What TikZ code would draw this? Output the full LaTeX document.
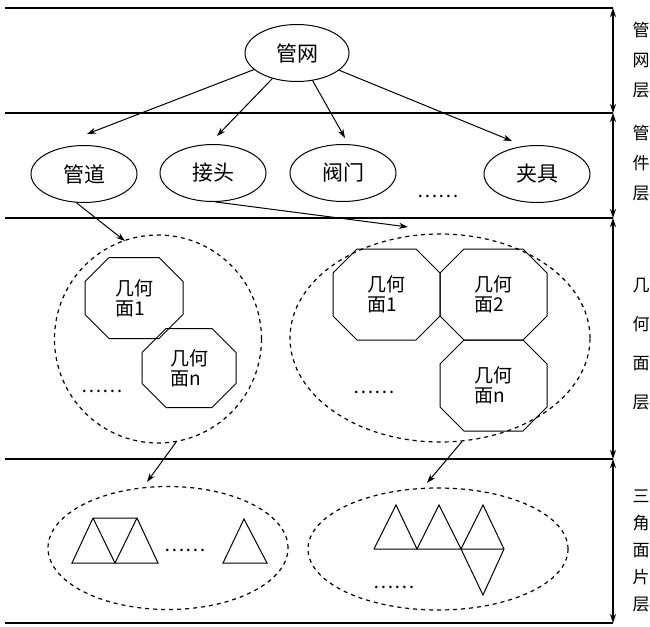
\documentclass[tikz,border=0pt]{standalone}
\usepackage{fontspec}
\setmainfont{Noto Sans CJK SC}
\usetikzlibrary{arrows.meta,shapes.geometric}

% octagon round a face node
\newcommand{\facebox}[1]{%
  \draw[line width=1pt] ([xshift=24pt]#1.north west) -- ([xshift=-24pt]#1.north east)
    -- ([yshift=-24pt]#1.north east) -- ([yshift=24pt]#1.south east)
    -- ([xshift=-24pt]#1.south east) -- ([xshift=24pt]#1.south west)
    -- ([yshift=24pt]#1.south west) -- ([yshift=-24pt]#1.north west) -- cycle;}

\begin{document}
\begin{tikzpicture}[x=1pt,y=-1pt,>={Stealth[length=9pt,width=6pt]},
    layer/.style={line width=1.3pt},
    link/.style={->,line width=1pt},
    comp/.style={ellipse,draw,line width=1pt,minimum width=106pt,minimum height=57pt,inner sep=0pt,font=\fontsize{21}{23}\selectfont},
    group/.style={ellipse,draw,line width=1.2pt,dash pattern=on 4pt off 4pt},
    face/.style={rectangle,inner sep=0pt,outer sep=0pt,align=left,font=\fontsize{19}{20}\selectfont},
    more/.style={inner sep=0pt,font=\fontsize{19}{19}\selectfont},
    side/.style={align=center,inner sep=0pt,font=\fontsize{17}{30}\selectfont}]
  \useasboundingbox (0,0) rectangle (650,626);

  % layers and their names
  \foreach \i/\y in {0/8,1/113,2/218,3/459,4/623} {
    \coordinate (l\i) at (5,\y);
    \coordinate (r\i) at (613,\y);
    \draw[layer] (l\i) -- (r\i);
  }
  \foreach \i/\j in {0/1,1/2,2/3,3/4}
    \draw[<->,line width=1.2pt] (r\i) -- (r\j);
  \node[side] (s1) at (641,60) {管\\网\\层};
  \node[side] (s2) at (641,163) {管\\件\\层};
  \node[side,font=\fontsize{17}{39}\selectfont] (s3) at (641,344) {几\\何\\面\\层};
  \node[side,font=\fontsize{17}{27}\selectfont] (s4) at (641,551) {三\\角\\面\\片\\层};

  % network and parts
  \node[comp,minimum width=104pt] (net) at (297,53) {管网};
  \node[comp] (pipe) at (84,174) {管道};
  \node[comp] (joint) at (213,173) {接头};
  \node[comp] (valve) at (343,173) {阀门};
  \node[comp] (clamp) at (537,174) {夹具};
  \node[more] (m1) at (438,196) {……};
  \coordinate (a1) at (87,134);
  \coordinate (a2) at (217,136);
  \coordinate (a3) at (345,138);
  \coordinate (a4) at (512,141);
  \foreach \t in {a1,a2,a3,a4}
    \draw[link] (net) -- (\t);

  % geometry faces
  \node[group,minimum width=207pt,minimum height=208pt] (g1) at (158,339) {};
  \node[group,minimum width=300pt,minimum height=208pt] (g2) at (440,338) {};
  \node[face,minimum width=98pt,minimum height=81pt] (f11) at (134,298) {几何\\面1};
  \node[face,minimum width=94pt,minimum height=79pt] (f1n) at (189,368) {几何\\面n};
  \node[face,minimum width=107pt,minimum height=91pt] (f21) at (386.5,294.5) {几何\\面1};
  \node[face,minimum width=107pt,minimum height=91pt] (f22) at (493.5,294.5) {几何\\面2};
  \node[face,minimum width=107pt,minimum height=91pt] (f2n) at (493.5,385.5) {几何\\面n};
  \foreach \f in {f11,f1n,f21,f22,f2n}
    \facebox{\f};
  \node[more] (m2) at (102,391) {……};
  \node[more] (m3) at (374,392) {……};
  \coordinate (b1) at (125,241);
  \coordinate (b2) at (408,227);
  \draw[link] (pipe.255) -- (b1);
  \draw[link] (joint.275) -- (b2);

  % triangle patches
  \node[group,minimum width=240pt,minimum height=123pt] (t1) at (168,548) {};
  \node[group,minimum width=260pt,minimum height=122pt] (t2) at (438,549) {};
  \coordinate (c1) at (147,482);
  \coordinate (c2) at (427,483);
  \draw[link] (g1.280) -- (c1);
  \draw[link] (g2.282) -- (c2);
  \draw[line width=1pt] (72,563) -- (93,518) -- (137,518) -- (158,563) -- cycle
    (93,518) -- (115,563) -- (137,518);
  \draw[line width=1pt] (223,563) -- (244,519) -- (267,563) -- cycle;
  \draw[line width=1pt] (374,549) -- (504,549)
    (374,549) -- (396,505) -- (417,549) -- (439,505) -- (461,549) -- (483,505)
    -- (504,549) -- (483,595) -- (461,549);
  \node[more] (m4) at (185,550) {……};
  \node[more] (m5) at (394,587) {……};
\end{tikzpicture}
\end{document}
